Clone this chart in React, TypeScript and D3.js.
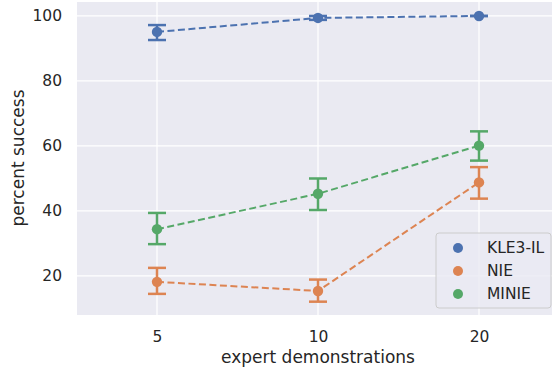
import { useEffect, useRef } from 'react';
import * as d3 from "d3";

const demos = ["5", "10", "20"];
const seriesNames = ["KLE3-IL", "NIE", "MINIE"];
const colors = ["#4c72b0", "#dd8452", "#55a868"];
// mean, lower, upper per demo count
const kleMean = [95.1, 99.4, 100];
const kleLow = [92.6, 98.8, 100];
const kleHigh = [97.2, 100, 100];
const nieMean = [18.2, 15.4, 48.8];
const nieLow = [14.5, 12.1, 43.8];
const nieHigh = [22.5, 18.9, 53.5];
const minieMean = [34.4, 45.3, 60.1];
const minieLow = [29.8, 40.3, 55.5];
const minieHigh = [39.4, 50.0, 64.5];
const yTicks = [20, 40, 60, 80, 100];

export default function App() {
  const chartRef = useRef<SVGSVGElement>(null);

  useEffect(() => {
    if (!chartRef.current) return;
    d3.select(chartRef.current).selectAll("*").remove();

    const width = 552;
    const height = 370;
    const marginLeft = 77;
    const marginTop = 2;
    const plotBottom = 315;
    const plotRight = 559; // the axes run past the right edge of the image

    const x = d3.scalePoint()
      .domain(demos)
      .range([157, 479]);

    const y = d3.scaleLinear()
      .domain([8, 104.3])
      .range([plotBottom, marginTop]);

    const svg = d3.select(chartRef.current)
      .attr("width", width)
      .attr("height", height)
      .attr("viewBox", [0, 0, width, height])
      .style("display", "block")
      .style("font-family", "DejaVu Sans, sans-serif");

    svg.append("rect")
      .attr("x", marginLeft)
      .attr("y", marginTop)
      .attr("width", plotRight - marginLeft)
      .attr("height", plotBottom - marginTop)
      .attr("fill", "#eaeaf2");

    // grid
    const grid = svg.append("g").attr("stroke", "#ffffff").attr("stroke-width", 1.25);
    grid.selectAll("line.h")
      .data(yTicks)
      .join("line")
      .attr("class", "h")
      .attr("x1", marginLeft)
      .attr("x2", plotRight)
      .attr("y1", d => y(d))
      .attr("y2", d => y(d));
    grid.selectAll("line.v")
      .data(demos)
      .join("line")
      .attr("class", "v")
      .attr("x1", d => x(d) || 0)
      .attr("x2", d => x(d) || 0)
      .attr("y1", marginTop)
      .attr("y2", plotBottom);

    // axes (seaborn darkgrid: no spines, no tick marks)
    const yAxis = svg.append("g")
      .attr("transform", `translate(${marginLeft},0)`)
      .call(d3.axisLeft(y).tickValues(yTicks).tickSize(0).tickPadding(15));
    yAxis.select(".domain").remove();
    yAxis.selectAll("text")
      .attr("fill", "#262626")
      .style("font-size", "15.5px")
      .style("font-family", "DejaVu Sans, sans-serif");

    const xAxis = svg.append("g")
      .attr("transform", `translate(0,${plotBottom})`)
      .call(d3.axisBottom(x).tickSize(0).tickPadding(16));
    xAxis.select(".domain").remove();
    xAxis.selectAll("text")
      .attr("fill", "#262626")
      .style("font-size", "15.5px")
      .style("font-family", "DejaVu Sans, sans-serif");

    svg.append("text")
      .attr("text-anchor", "middle")
      .attr("x", 318)
      .attr("y", 363)
      .attr("fill", "#262626")
      .style("font-size", "17px")
      .text("expert demonstrations");

    svg.append("text")
      .attr("text-anchor", "middle")
      .attr("transform", "rotate(-90)")
      .attr("x", -158)
      .attr("y", 24)
      .attr("fill", "#262626")
      .style("font-size", "17px")
      .text("percent success");

    const series = [
      { mean: kleMean, low: kleLow, high: kleHigh },
      { mean: nieMean, low: nieLow, high: nieHigh },
      { mean: minieMean, low: minieLow, high: minieHigh },
    ];

    const line = d3.line<number>()
      .x((_, i) => x(demos[i]) || 0)
      .y(d => y(d));

    series.forEach((s, si) => {
      const g = svg.append("g");
      const c = colors[si];
      g.append("path")
        .attr("d", line(s.mean))
        .attr("fill", "none")
        .attr("stroke", c)
        .attr("stroke-width", 2)
        .attr("stroke-dasharray", "7,3.5");

      demos.forEach((dm, i) => {
        const cx = x(dm) || 0;
        g.append("line")
          .attr("x1", cx).attr("x2", cx)
          .attr("y1", y(s.low[i])).attr("y2", y(s.high[i]))
          .attr("stroke", c).attr("stroke-width", 2.5);
        [s.low[i], s.high[i]].forEach(v => {
          g.append("line")
            .attr("x1", cx - 9).attr("x2", cx + 9)
            .attr("y1", y(v)).attr("y2", y(v))
            .attr("stroke", c).attr("stroke-width", 2.5);
        });
        g.append("circle")
          .attr("cx", cx)
          .attr("cy", y(s.mean[i]))
          .attr("r", 5.2)
          .attr("fill", c);
      });
    });

    // legend
    const legend = svg.append("g").attr("transform", "translate(436,233)");
    legend.append("rect")
      .attr("width", 115)
      .attr("height", 75)
      .attr("rx", 3)
      .attr("fill", "#eaeaf2")
      .attr("fill-opacity", 0.8)
      .attr("stroke", "#cccccc")
      .attr("stroke-width", 1);
    seriesNames.forEach((name, i) => {
      legend.append("circle")
        .attr("cx", 22)
        .attr("cy", 15 + i * 23)
        .attr("r", 5)
        .attr("fill", colors[i]);
      legend.append("text")
        .attr("x", 51)
        .attr("y", 15 + i * 23)
        .attr("dy", "0.35em")
        .attr("fill", "#262626")
        .style("font-size", "15.5px")
        .text(name);
    });
  }, []);

  return (
    <div style={{ position: "absolute", left: 0, top: 0 }}>
      <svg ref={chartRef}></svg>
    </div>
  );
}
